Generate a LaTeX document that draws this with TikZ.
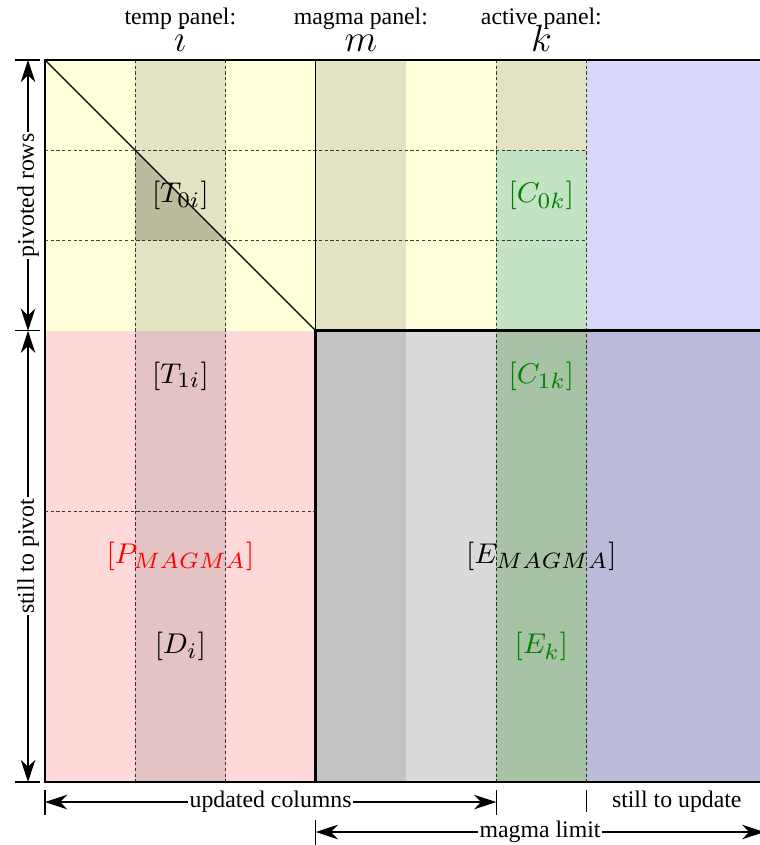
\documentclass[tikz,border=0pt]{standalone}
\usepackage{fontspec}
\setmainfont{Liberation Serif}
\usetikzlibrary{arrows.meta}
\definecolor{cyel}{RGB}{255,255,217}
\definecolor{cpink}{RGB}{255,217,217}
\definecolor{cbluetop}{RGB}{216,216,251}
\definecolor{cbluelow}{RGB}{187,187,217}
\definecolor{cgraylow}{RGB}{218,218,218}
\definecolor{cgraydark}{RGB}{195,195,195}
\definecolor{cyelgray}{RGB}{227,227,195}
\definecolor{cpinkgray}{RGB}{227,195,195}
\definecolor{cgreentop}{RGB}{196,226,196}
\definecolor{cgreenlow}{RGB}{168,194,166}
\definecolor{ctri}{RGB}{187,187,158}
\definecolor{cgreentxt}{RGB}{0,128,0}
\definecolor{credtxt}{RGB}{255,0,0}
\begin{document}
\begin{tikzpicture}[x=1cm,y=1cm,
  txt/.style={font=\fontsize{7.5}{9}\selectfont},
  lab/.style={font=\fontsize{9.5}{11}\selectfont},
  panellab/.style={font=\fontsize{12}{14}\selectfont},
  gridline/.style={draw=black, draw opacity=0.75, dash pattern=on 1pt off 0.8pt, line width=0.4pt},
  thinline/.style={draw=black, line width=0.4pt},
  thickline/.style={draw=black, line width=0.9pt},
  dimarrow/.style={{Stealth[length=7pt,width=4.6pt,inset=2.2pt]}-{Stealth[length=7pt,width=4.6pt,inset=2.2pt]}, line width=0.4pt},
  ticky/.style={line width=0.4pt},
  onarrow/.style={txt, fill=white, inner sep=0.5pt},
  toptext/.style={txt, anchor=base, inner sep=0pt, text depth=0pt},
  topvar/.style={panellab, anchor=base, inner sep=0pt, text height=5.6pt, text depth=0pt}
]
\useasboundingbox (-0.4986,0.6648) rectangle (7.922,-8.698);

% base fills
\fill[cyel] (0,0) rectangle (6,-3);
\fill[cpink] (0,-3) rectangle (3,-8);
\fill[cbluetop] (6,0) rectangle (8,-3);
\fill[cbluelow] (6,-3) rectangle (8,-8);
\fill[cgraylow] (3,-3) rectangle (6,-8);
% panel columns
\fill[cyelgray] (1,0) rectangle (2,-3);
\fill[cpinkgray] (1,-3) rectangle (2,-8);
\fill[cyelgray] (3,0) rectangle (4,-3);
\fill[cgraydark] (3,-3) rectangle (4,-8);
\fill[cyelgray] (5,0) rectangle (6,-1);
\fill[cgreentop] (5,-1) rectangle (6,-3);
\fill[cgreenlow] (5,-3) rectangle (6,-8);
\fill[ctri] (1,-1) -- (1,-2) -- (2,-2) -- cycle;

% dashed grid
\draw[gridline] (1,0) -- (1,-8);
\draw[gridline] (2,0) -- (2,-8);
\draw[gridline] (5,0) -- (5,-8);
\draw[gridline] (6,0) -- (6,-8);
\draw[gridline] (0,-1) -- (6,-1);
\draw[gridline] (0,-2) -- (6,-2);
\draw[gridline] (0,-5) -- (3,-5);

% solid lines
\draw[thinline] (0,0) rectangle (8,-8);
\draw[thinline] (3,0) -- (3,-3);
\draw[thinline] (0,0) -- (3,-3);
\draw[thickline] (8,-3) -- (3,-3) -- (3,-8) -- (8,-8);

% top labels
\node[toptext] (tp) at (1.5,0.39) {temp panel:};
\node[toptext] (mp) at (3.5,0.39) {magma panel:};
\node[toptext] (ap) at (5.5,0.39) {active panel:};
\node[topvar] (li) at (1.5,0.09) {$i$};
\node[topvar] (lm) at (3.5,0.09) {$m$};
\node[topvar] (lk) at (5.5,0.09) {$k$};

% block labels
\node[lab] (t0) at (1.5,-1.5) {$[T_{0i}]$};
\node[lab, text=cgreentxt] (c0) at (5.5,-1.5) {$[C_{0k}]$};
\node[lab] (t1) at (1.5,-3.5) {$[T_{1i}]$};
\node[lab, text=cgreentxt] (c1) at (5.5,-3.5) {$[C_{1k}]$};
\node[lab, text=credtxt] (pm) at (1.5,-5.5) {$[P_{MAGMA}]$};
\node[lab] (em) at (5.5,-5.5) {$[E_{MAGMA}]$};
\node[lab] (di) at (1.5,-6.5) {$[D_i]$};
\node[lab, text=cgreentxt] (ek) at (5.5,-6.5) {$[E_k]$};

% left dimension lines
\coordinate (la) at (-0.188,0);
\coordinate (lb) at (-0.188,-3);
\coordinate (lc) at (-0.188,-8);
\draw[ticky] (-0.33,0) -- (-0.055,0);
\draw[ticky] (-0.33,-3) -- (-0.055,-3);
\draw[ticky] (-0.33,-8) -- (-0.055,-8);
\draw[dimarrow] (lb) -- node[onarrow, rotate=90] (pr) {pivoted rows} (la);
\draw[dimarrow] (lc) -- node[onarrow, rotate=90] (sp) {still to pivot} (lb);

% bottom dimension lines
\coordinate (ba) at (0,-8.222);
\coordinate (bb) at (5,-8.222);
\coordinate (ma) at (3,-8.554);
\coordinate (mb) at (7.97,-8.554);
\draw[ticky] (0,-8.09) -- (0,-8.36);
\draw[ticky] (5,-8.09) -- (5,-8.36);
\draw[ticky] (6,-8.09) -- (6,-8.33);
\draw[ticky] (3,-8.42) -- (3,-8.70);
\draw[dimarrow] (ba) -- node[onarrow] (uc) {updated columns} (bb);
\node[txt] (su) at (7.0,-8.222) {still to update};
\draw[dimarrow] (ma) -- node[onarrow] (ml) {magma limit} (mb);
\end{tikzpicture}
\end{document}
